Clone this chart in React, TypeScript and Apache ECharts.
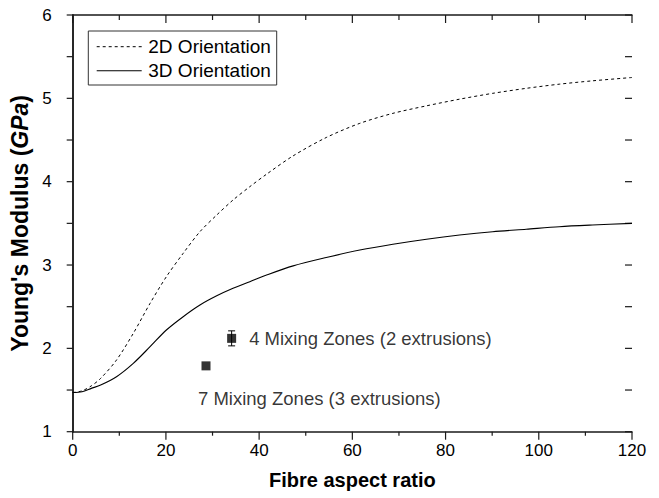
import React, { useEffect, useRef } from "react";
import * as echarts from "echarts";

// Fibre aspect ratio samples along the model curves
const aspectRatio = [0, 2, 4, 6, 9.4, 13, 16.6, 20.1, 23.7, 27.3, 30.9, 34.4, 38, 41.6, 47.3, 54.4, 61.6, 68.7, 75.9, 83, 90.1, 97.3, 104.4, 111.5, 120];
// 2D orientation model (GPa)
const modulus2D = [1.47, 1.49, 1.55, 1.64, 1.86, 2.18, 2.54, 2.86, 3.14, 3.4, 3.6, 3.78, 3.94, 4.09, 4.31, 4.53, 4.7, 4.82, 4.91, 4.99, 5.06, 5.12, 5.17, 5.21, 5.25];
// 3D orientation model (GPa)
const modulus3D = [1.47, 1.48, 1.52, 1.56, 1.66, 1.82, 2.02, 2.22, 2.38, 2.52, 2.63, 2.72, 2.8, 2.88, 2.99, 3.09, 3.18, 3.25, 3.31, 3.36, 3.4, 3.43, 3.46, 3.48, 3.5];

// Experimental points
const sampleLabels = ["4 Mixing Zones (2 extrusions)", "7 Mixing Zones (3 extrusions)"];
const sampleX = [34.1, 28.6];
const sampleY = [2.12, 1.79];
const sampleErr = [0.09, 0];

const seriesNames = ["2D Orientation", "3D Orientation"];
const xTicks = { min: 0, max: 120, interval: 20 };
const yTicks = { min: 1, max: 6, interval: 1 };
// tick positions (major and minor) for the frame
const xMajorTicks = [0, 20, 40, 60, 80, 100, 120];
const xMinorTicks = [10, 30, 50, 70, 90, 110];
const yMajorTicks = [1, 2, 3, 4, 5, 6];
const yMinorTicks = [1.5, 2.5, 3.5, 4.5, 5.5];

const FONT = "'Liberation Sans', Arial, Helvetica, sans-serif";

export default function App() {
  const ref = useRef<HTMLDivElement>(null);
  useEffect(() => {
    if (!ref.current) return;
    const chart = echarts.init(ref.current, undefined, { renderer: "svg" });
    const mkLine = () => ({ show: true, lineStyle: { color: "#1a1a1a", width: 1.5 } });
    const line2D = aspectRatio.map((x, i) => [x, modulus2D[i]]);
    const line3D = aspectRatio.map((x, i) => [x, modulus3D[i]]);
    const points = sampleX.map((x, i) => ({
      value: [x, sampleY[i]],
      label:
        i === 0
          ? { show: true, formatter: sampleLabels[i], position: "right", distance: 13, fontSize: 18.5, color: "#000", fontFamily: FONT }
          : { show: true, formatter: sampleLabels[i], position: "bottom", align: "left", offset: [-8, 0], distance: 19, fontSize: 18.5, color: "#000", fontFamily: FONT },
    }));
    const errData = sampleX.map((x, i) => [x, sampleY[i], sampleErr[i]]).filter((d) => d[2] > 0);

    const lgX = 88.3, lgY = 31, lgW = 188.4, lgH = 54;
    const legendGraphic = {
      type: "group",
      children: [
        { type: "rect", shape: { x: lgX, y: lgY, width: lgW, height: lgH }, style: { fill: "#fff", stroke: "#333", lineWidth: 1 } },
        { type: "line", shape: { x1: 96.7, y1: 46.7, x2: 141.7, y2: 46.7 }, style: { stroke: "#000", lineWidth: 1, lineDash: [3, 3] } },
        { type: "line", shape: { x1: 96.7, y1: 70.7, x2: 141.7, y2: 70.7 }, style: { stroke: "#000", lineWidth: 1.1 } },
        { type: "text", x: 148.3, y: 46.7, style: { text: seriesNames[0], fill: "#000", fontSize: 19, fontFamily: FONT, verticalAlign: "middle", align: "left" } },
        { type: "text", x: 148.3, y: 70.7, style: { text: seriesNames[1], fill: "#000", fontSize: 19, fontFamily: FONT, verticalAlign: "middle", align: "left" } },
      ],
    };

    const noTicks = { show: false };

    chart.setOption({
      animation: false,
      grid: { left: 72.7, right: 27, top: 15, bottom: 66.3 },
      graphic: [legendGraphic],
      xAxis: [
        {
          type: "value",
          position: "bottom",
          min: xTicks.min,
          max: xTicks.max,
          interval: xTicks.interval,
          name: "Fibre aspect ratio",
          nameLocation: "middle",
          nameGap: 38,
          nameTextStyle: { fontSize: 20, fontWeight: "bold", color: "#000", fontFamily: FONT },
          axisLine: mkLine(),
          axisTick: noTicks,
          axisLabel: { fontSize: 17, color: "#000", margin: 10, fontFamily: FONT },
          splitLine: { show: false },
        },
        {
          type: "value",
          position: "top",
          min: xTicks.min,
          max: xTicks.max,
          interval: xTicks.interval,
          axisLine: mkLine(),
          axisTick: noTicks,
          axisLabel: { show: false },
          splitLine: { show: false },
        },
      ],
      yAxis: [
        {
          type: "value",
          position: "left",
          min: yTicks.min,
          max: yTicks.max,
          interval: yTicks.interval,
          name: "Young's Modulus ({i|GPa})",
          nameLocation: "middle",
          nameGap: 36,
          nameTextStyle: {
            fontSize: 23,
            fontWeight: "bold",
            color: "#000",
            fontFamily: FONT,
            rich: { i: { fontSize: 23, fontWeight: "bold", fontStyle: "italic", color: "#000", fontFamily: FONT } },
          },
          axisLine: mkLine(),
          axisTick: noTicks,
          axisLabel: { fontSize: 17, color: "#000", margin: 21, fontFamily: FONT },
          splitLine: { show: false },
        },
        {
          type: "value",
          position: "right",
          min: yTicks.min,
          max: yTicks.max,
          interval: yTicks.interval,
          axisLine: mkLine(),
          axisTick: noTicks,
          axisLabel: { show: false },
          splitLine: { show: false },
        },
      ],
      series: [
        {
          name: seriesNames[0],
          type: "line",
          data: line2D,
          smooth: 0.3,
          symbol: "none",
          showSymbol: false,
          lineStyle: { color: "#000", width: 1, type: [3, 3] },
          itemStyle: { color: "#000" },
        },
        {
          name: seriesNames[1],
          type: "line",
          data: line3D,
          smooth: 0.3,
          symbol: "none",
          showSymbol: false,
          lineStyle: { color: "#000", width: 1.1, type: "solid" },
          itemStyle: { color: "#000" },
        },
        {
          name: "samples",
          type: "scatter",
          data: points,
          symbol: "rect",
          symbolSize: 9,
          itemStyle: { color: "#000" },
          z: 4,
        },
        {
          name: "errors",
          type: "custom",
          data: errData,
          z: 3,
          renderItem: (params: any, api: any) => {
            const x = api.value(0);
            const y = api.value(1);
            const e = api.value(2);
            const top = api.coord([x, y + e]);
            const bot = api.coord([x, y - e]);
            const w = 3.5;
            const style = { stroke: "#000", lineWidth: 1 };
            return {
              type: "group",
              children: [
                { type: "line", shape: { x1: top[0], y1: top[1], x2: bot[0], y2: bot[1] }, style },
                { type: "line", shape: { x1: top[0] - w, y1: top[1], x2: top[0] + w, y2: top[1] }, style },
                { type: "line", shape: { x1: bot[0] - w, y1: bot[1], x2: bot[0] + w, y2: bot[1] }, style },
              ],
            };
          },
        },
      ],
    });

    // Frame ticks, positioned through the chart's own axis scales
    const tickStyle = { stroke: "#1a1a1a", lineWidth: 1.2 };
    const yBottom = chart.convertToPixel({ yAxisIndex: 0 }, yTicks.min) as number;
    const yTop = chart.convertToPixel({ yAxisIndex: 0 }, yTicks.max) as number;
    const xLeft = chart.convertToPixel({ xAxisIndex: 0 }, xTicks.min) as number;
    const xRight = chart.convertToPixel({ xAxisIndex: 0 }, xTicks.max) as number;
    const tickLines: any[] = [];
    const addX = (v: number, major: boolean) => {
      const px = chart.convertToPixel({ xAxisIndex: 0 }, v) as number;
      const outLen = major ? 8 : 4;
      const inLen = major ? 8 : 5;
      tickLines.push({ type: "line", silent: true, shape: { x1: px, y1: yBottom, x2: px, y2: yBottom + outLen }, style: tickStyle });
      tickLines.push({ type: "line", silent: true, shape: { x1: px, y1: yTop, x2: px, y2: yTop + inLen }, style: tickStyle });
    };
    const addY = (v: number) => {
      const py = chart.convertToPixel({ yAxisIndex: 0 }, v) as number;
      tickLines.push({ type: "line", silent: true, shape: { x1: xLeft, y1: py, x2: xLeft - 6, y2: py }, style: tickStyle });
      tickLines.push({ type: "line", silent: true, shape: { x1: xRight, y1: py, x2: xRight - 7, y2: py }, style: tickStyle });
    };
    xMajorTicks.forEach((v) => addX(v, true));
    xMinorTicks.forEach((v) => addX(v, false));
    yMajorTicks.forEach((v) => addY(v));
    yMinorTicks.forEach((v) => addY(v));

    chart.setOption({
      graphic: [legendGraphic, { type: "group", z: 10, children: tickLines }],
    });

    return () => chart.dispose();
  }, []);
  return <div ref={ref} style={{ position: "fixed", left: 0, top: 0, width: 659, height: 498, background: "#fff" }} />;
}
